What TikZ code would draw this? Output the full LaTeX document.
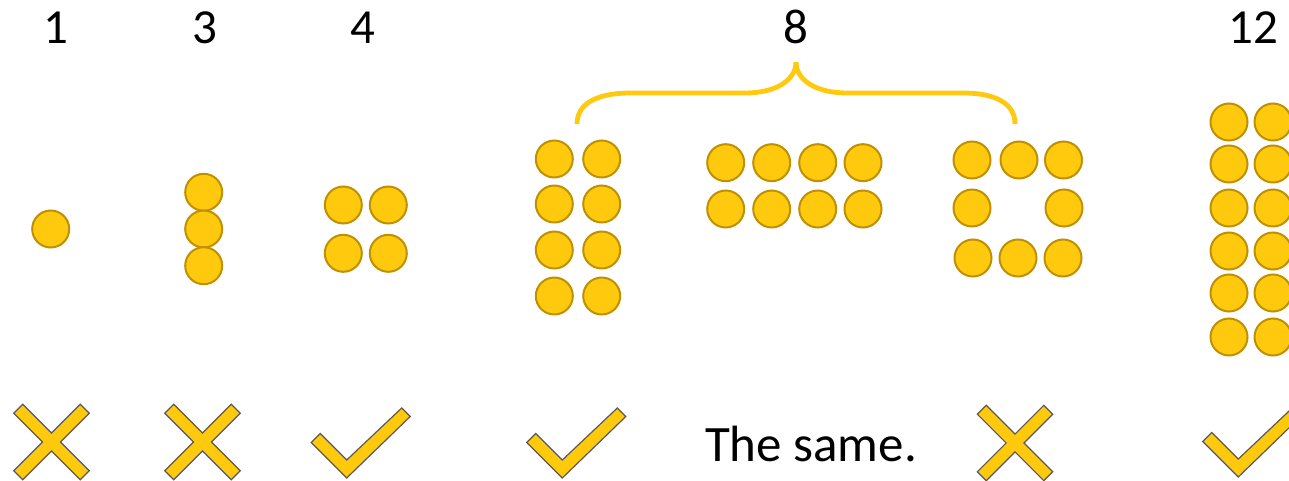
\documentclass[tikz,border=0pt]{standalone}
\usepackage{fontspec}
\setmainfont{Carlito}
\definecolor{gold}{HTML}{FFC90E}
\definecolor{golddark}{HTML}{BF9000}
\definecolor{markedge}{HTML}{595959}
\tikzset{
  coin/.style={circle, minimum size=37pt, inner sep=0pt, fill=gold, draw=golddark, line width=2pt},
  count/.style={anchor=base, inner sep=0pt, font=\fontsize{49}{56}\selectfont},
  remark/.style={anchor=base, inner sep=0pt, font=\fontsize{51}{60}\selectfont},
  bracestroke/.style={draw=gold, line width=4.8pt},
  markshape/.style={fill=gold, draw=markedge, line width=1.2pt, line join=miter},
  xmark/.pic={
    \path[markshape, rotate=45]
      (47,6.3) -- (6.3,6.3) -- (6.3,47) -- (-6.3,47) -- (-6.3,6.3) -- (-47,6.3)
      -- (-47,-6.3) -- (-6.3,-6.3) -- (-6.3,-47) -- (6.3,-47) -- (6.3,-6.3) -- (47,-6.3) -- cycle;
  },
  tickmark/.pic={
    \path[markshape]
      (0,0) -- (-35.5,-35.5) -- (-26.5,-44.5) -- (0,-18) -- (55,-70) -- (63.5,-61.5) -- cycle;
  }
}
\begin{document}
\begin{tikzpicture}[x=1pt, y=-1pt]
  \useasboundingbox (0,0) rectangle (1289,481);

  % counts along the top
  \node[count] (n1)  at (56,44)   {1};
  \node[count] (n3)  at (205,44)  {3};
  \node[count] (n4)  at (362.5,44) {4};
  \node[count] (n8)  at (796,44)  {8};
  \node[count] (n12) at (1253,44) {12};

  % one
  \node[coin] (c1) at (50.7,229) {};

  % three in a column
  \foreach \y [count=\i] in {192.3,229,265.7}
    \node[coin] (c3-\i) at (203.7,\y) {};

  % four in a square
  \foreach \x [count=\i] in {343.3,388.3}
    \foreach \y [count=\j] in {205,253.3}
      \node[coin] (c4-\i-\j) at (\x,\y) {};

  % eight as 2 x 4
  \foreach \x [count=\i] in {554.3,601.7}
    \foreach \y [count=\j] in {159,204,250,296}
      \node[coin] (a-\i-\j) at (\x,\y) {};

  % eight as 4 x 2
  \foreach \x [count=\i] in {725.7,771.7,817.7,863}
    \foreach \y [count=\j] in {162.7,209}
      \node[coin] (b-\i-\j) at (\x,\y) {};

  % eight as a ring
  \foreach \x [count=\i] in {972,1019,1063.5}
    \node[coin] (r-top-\i) at (\x,160) {};
  \node[coin] (r-left)  at (972,208) {};
  \node[coin] (r-right) at (1064,208) {};
  \foreach \x [count=\i] in {973,1018,1063}
    \node[coin] (r-bot-\i) at (\x,258) {};

  % twelve as 2 x 6
  \foreach \x [count=\i] in {1229,1273}
    \foreach \y [count=\j] in {122,164,208,251,293,337}
      \node[coin] (d-\i-\j) at (\x,\y) {};

  % brace over the three arrangements of eight
  \draw[bracestroke]
    (577,124) .. controls (577,102) and (600,93) .. (630,93)
    -- (745,93) .. controls (776,93) and (796,80) .. (796,62);
  \draw[bracestroke]
    (796,62) .. controls (796,80) and (816,93) .. (847,93)
    -- (963,93) .. controls (993,93) and (1015,102) .. (1015,124);

  % verdicts along the bottom
  \pic at (51.5,442) {xmark};
  \pic at (202.5,442) {xmark};
  \pic at (346.7,478) {tickmark};
  \pic at (562.3,478) {tickmark};
  \node[remark] (same) at (811,461.7) {The same.};
  \pic at (1015,443) {xmark};
  \pic at (1238.3,477) {tickmark};
\end{tikzpicture}
\end{document}
